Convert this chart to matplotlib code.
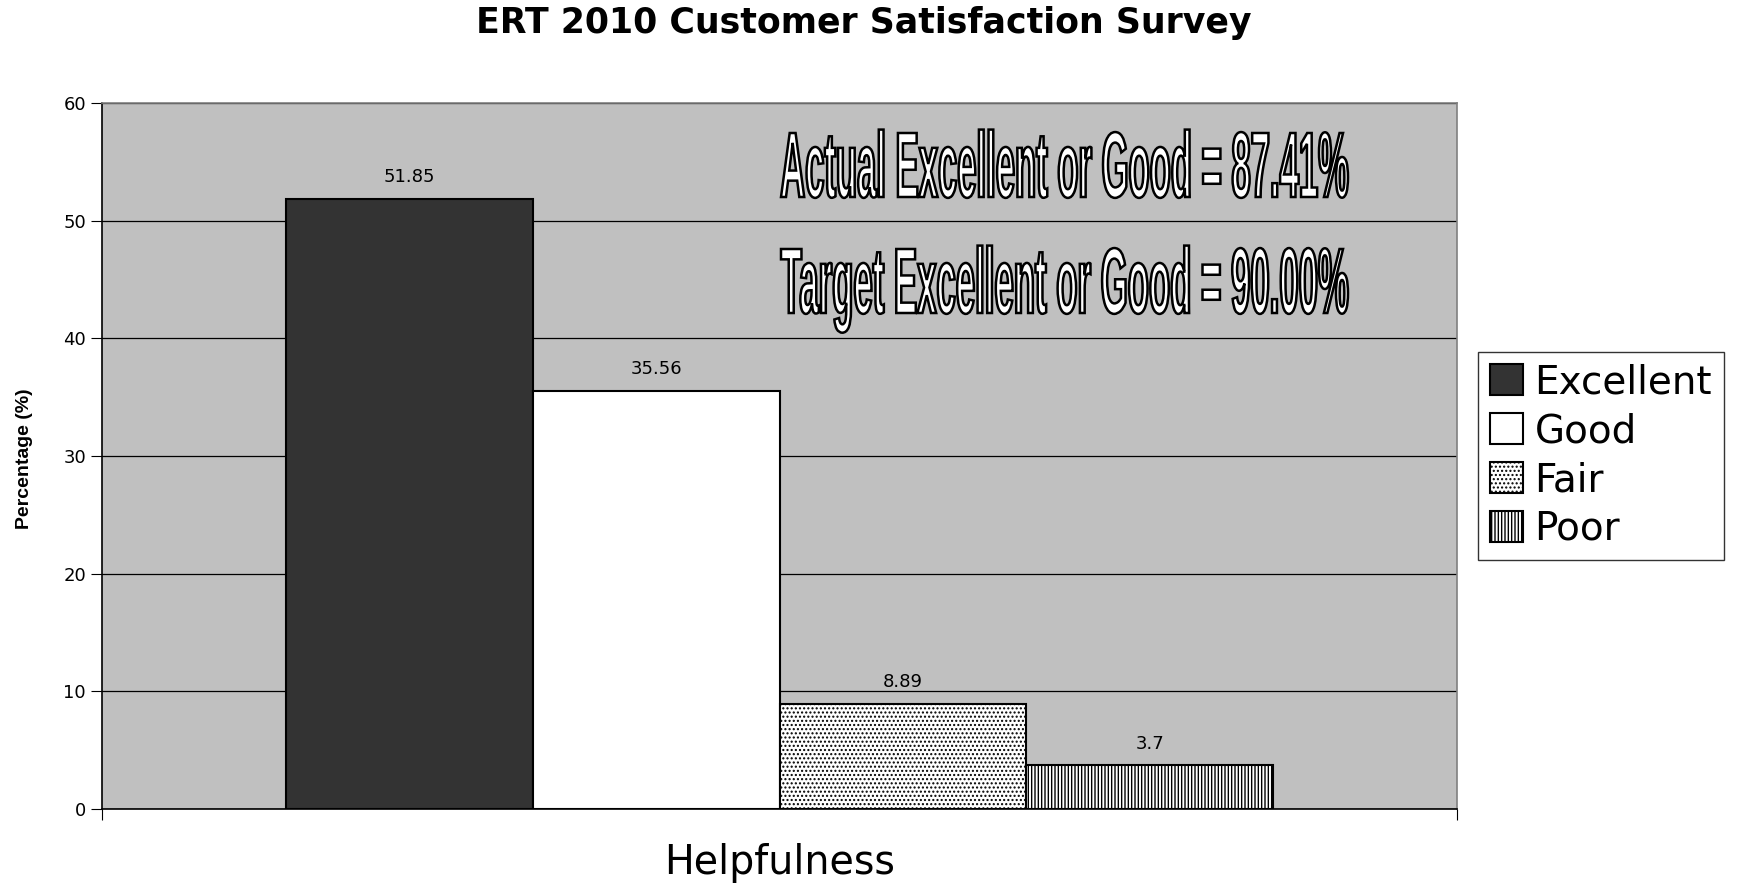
import matplotlib
matplotlib.use('Agg')
import matplotlib.pyplot as plt
from matplotlib.textpath import TextPath
from matplotlib.patches import PathPatch
from matplotlib.font_manager import FontProperties
from matplotlib.transforms import Affine2D

# Dados do gráfico
categoria = 'Helpfulness'
series = ['Excellent', 'Good', 'Fair', 'Poor']
valores = [51.85, 35.56, 8.89, 3.7]
rotulos = ['51.85', '35.56', '8.89', '3.7']
cores = ['#333333', 'white', 'white', 'white']
hachuras = [None, None, '....', '|||||']
textos = ['Actual Excellent or Good = 87.41%', 'Target Excellent or Good = 90.00%']

plt.rcParams['font.family'] = ['DejaVu Sans']
plt.rcParams['hatch.linewidth'] = 1.0

fig = plt.figure(figsize=(17.37, 8.83), dpi=100)
ax = fig.add_axes([0.0587, 0.0838, 0.7803, 0.7995])
ax.set_facecolor('#c0c0c0')

largura = 0.182
for i, (nome, v) in enumerate(zip(series, valores)):
    x = (i - 1.5) * largura
    ax.bar(x, v, width=largura, color=cores[i], edgecolor='black',
           linewidth=1.5, hatch=hachuras[i], label=nome, zorder=3)
    ax.text(x, v + 1.1, rotulos[i], ha='center', va='bottom', fontsize=13)

ax.set_xlim(-0.5, 0.5)
ax.set_ylim(0, 60)
ax.set_yticks(range(0, 61, 10))
ax.tick_params(axis='y', labelsize=13, length=8, direction='out')
ax.set_xticks([-0.5, 0.5])
ax.set_xticklabels(['', ''])
ax.tick_params(axis='x', length=8, direction='out')
ax.yaxis.grid(True, color='black', linewidth=0.9, zorder=1)
ax.set_axisbelow(True)
for lado in ['top', 'right']:
    ax.spines[lado].set_color('#808080')
    ax.spines[lado].set_linewidth(1.2)
for lado in ['left', 'bottom']:
    ax.spines[lado].set_color('black')
    ax.spines[lado].set_linewidth(1.2)

ax.set_xlabel(categoria, fontsize=28.5, labelpad=13)
fig.text(0.014, 0.48, 'Percentage (%)', rotation=90, ha='center', va='center',
         fontsize=14, fontweight='bold', family=['Liberation Sans Narrow', 'Liberation Sans'])

fig.suptitle('ERT 2010 Customer Satisfaction Survey', fontsize=25, fontweight='bold',
             x=0.497, y=0.993, va='top')

leg = ax.legend(loc='center left', bbox_to_anchor=(0.851, 0.484),
                bbox_transform=fig.transFigure, fontsize=28, frameon=True,
                fancybox=False, edgecolor='black', handlelength=0.85,
                handleheight=0.85, handletextpad=0.3, labelspacing=0.28,
                borderpad=0.3, borderaxespad=0)
leg.get_frame().set_linewidth(1.0)

# Textos contornados, estreitos e altos
fp = FontProperties(family=['Liberation Sans Narrow', 'Liberation Sans'], weight='bold')
caixas = [(781, 1348, 197, 64), (781, 1348, 313, 64)]  # x0, x1, linha de base, altura (px)
W, H = fig.get_size_inches() * fig.dpi
for s, (x0, x1, base, alt) in zip(textos, caixas):
    tp = TextPath((0, 0), s, prop=fp, size=100)
    ext = tp.get_extents()
    ref = TextPath((0, 0), 'A', prop=fp, size=100).get_extents()
    sx = (x1 - x0) / W / ext.width
    sy = alt / H / ref.y1
    tr = Affine2D().translate(-ext.x0, 0).scale(sx, sy).translate(x0 / W, 1 - base / H)
    patch = PathPatch(tr.transform_path(tp), facecolor='white', edgecolor='black',
                      linewidth=1.8, transform=fig.transFigure, zorder=5)
    fig.add_artist(patch)

fig.savefig('out.png', dpi=100)
